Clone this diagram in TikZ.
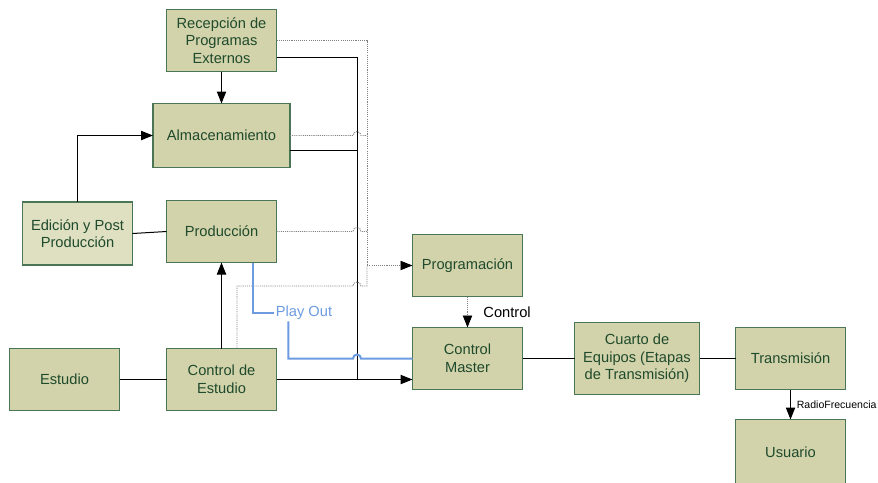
\documentclass[tikz,border=0pt]{standalone}
\usepackage{fontspec}
\setmainfont{Liberation Sans}
\usetikzlibrary{arrows.meta,positioning,calc}
\definecolor{boxfill}{HTML}{D2D3AB}
\definecolor{lightfill}{HTML}{DFE0C2}
\definecolor{boxedge}{HTML}{4A7656}
\definecolor{boxtext}{HTML}{1F4A2C}
\definecolor{playblue}{HTML}{6C9BE0}
\definecolor{dotgray}{HTML}{808080}
\tikzset{
  blk/.style={draw=boxedge,line width=1.1pt,fill=boxfill,text=boxtext,align=center,
    font=\fontsize{11}{13.2}\selectfont,minimum width=82.5pt,minimum height=46.5pt,
    inner sep=2pt,outer sep=0pt},
  blklight/.style={blk,fill=lightfill},
  line/.style={draw=black,line width=0.75pt},
  arrow/.style={line,-{Triangle[length=9pt,width=7pt]}},
  dotline/.style={draw=dotgray,line width=0.7pt,dash pattern=on 0.8pt off 0.8pt},
  dotarrow/.style={dotline,-{Triangle[length=9pt,width=7pt,black]}},
  playline/.style={draw=playblue,line width=1.5pt},
  lbl/.style={font=\fontsize{11}{13.2}\selectfont,inner sep=1pt},
  rflbl/.style={font=\fontsize{7.9}{9.5}\selectfont,inner sep=1pt}
}

\begin{document}
\begin{tikzpicture}[x=0.75pt,y=-0.75pt]
  \useasboundingbox (0,0) rectangle (878,482);
  \coordinate (bus) at (357,0);
  \coordinate (dbus) at (367,0);
  \coordinate (dturn) at (0,286);

  % bloques
  \node[blk] (recep) at (221.5,40.5) {Recepción de\\Programas\\Externos};
  \node[blk,minimum width=102.75pt,minimum height=48pt,below=24pt of recep] (almac) {Almacenamiento};
  \node[blk,below=24.75pt of almac] (prod) {Producción};
  \node[blk,below=64.5pt of prod] (cest) {Control de\\Estudio};
  \node[blk,left=35.25pt of cest] (estudio) {Estudio};
  \node[blklight,minimum height=47.25pt,left=25.5pt of prod,yshift=-1.5pt] (edic) {Edición y Post\\Producción};
  \node[blk,right=102pt of cest,yshift=15.75pt] (cmaster) {Control\\Master};
  \node[blk,above=23.25pt of cmaster] (prog) {Programación};
  \node[blk,minimum width=93.75pt,minimum height=54pt,right=39pt of cmaster] (cuarto) {Cuarto de\\Equipos (Etapas\\de Transmisión)};
  \node[blk,right=27pt of cuarto] (trans) {Transmisión};
  \node[blk,minimum height=49.5pt,below=22.5pt of trans] (usuario) {Usuario};
  \node[lbl,text=playblue] (playout) at (304,313) {Play Out};

  % bus negro
  \draw[line] ([yshift=-12.4pt]recep.east) -| (cest.east -| bus);
  \draw[line] ([yshift=-10.9pt]almac.east) -- ([yshift=-10.9pt]almac.east -| bus);
  \draw[arrow] (cest.east) -- (cest.east -| cmaster.west);

  % lineas punteadas hacia programacion
  \draw[dotarrow] (recep.east) -| (prog.west -| dbus) -- (prog.west);
  \draw[dotline] (almac.east) -- ($(almac.east -| bus)+(-3pt,0)$)
    arc[start angle=180,end angle=0,radius=3pt] -- (almac.east -| dbus);
  \draw[dotline] (prod.east) -- ($(prod.east -| bus)+(-3pt,0)$)
    arc[start angle=180,end angle=0,radius=3pt] -- (prod.east -| dbus);
  \draw[dotline] ([xshift=11.6pt]cest.north) |- ($(dturn -| bus)+(-3pt,0)$)
    arc[start angle=180,end angle=0,radius=3pt] -- (dturn -| dbus) -- (prog.west -| dbus);

  % play out
  \draw[playline] ([xshift=23.6pt]prod.south) |- (playout.west);
  \draw[playline] ([xshift=10.5pt]playout.south west) |- ($(cmaster.west -| bus)+(-3pt,0)$)
    arc[start angle=180,end angle=0,radius=3pt] -- (cmaster.west);

  % resto
  \draw[arrow] (recep) -- (almac);
  \draw[arrow] (edic.north) |- (almac.west);
  \draw[line] (edic.east) -- (prod.west);
  \draw[arrow] (cest) -- (prod);
  \draw[line] (estudio) -- (cest);
  \draw[dotarrow] (prog) -- node[lbl,right=10.6pt] {Control} (cmaster);
  \draw[line] (cmaster) -- (cuarto);
  \draw[line] (cuarto) -- (trans);
  \draw[arrow] (trans) -- node[rflbl,right=3.4pt] {RadioFrecuencia} (usuario);
\end{tikzpicture}
\end{document}
